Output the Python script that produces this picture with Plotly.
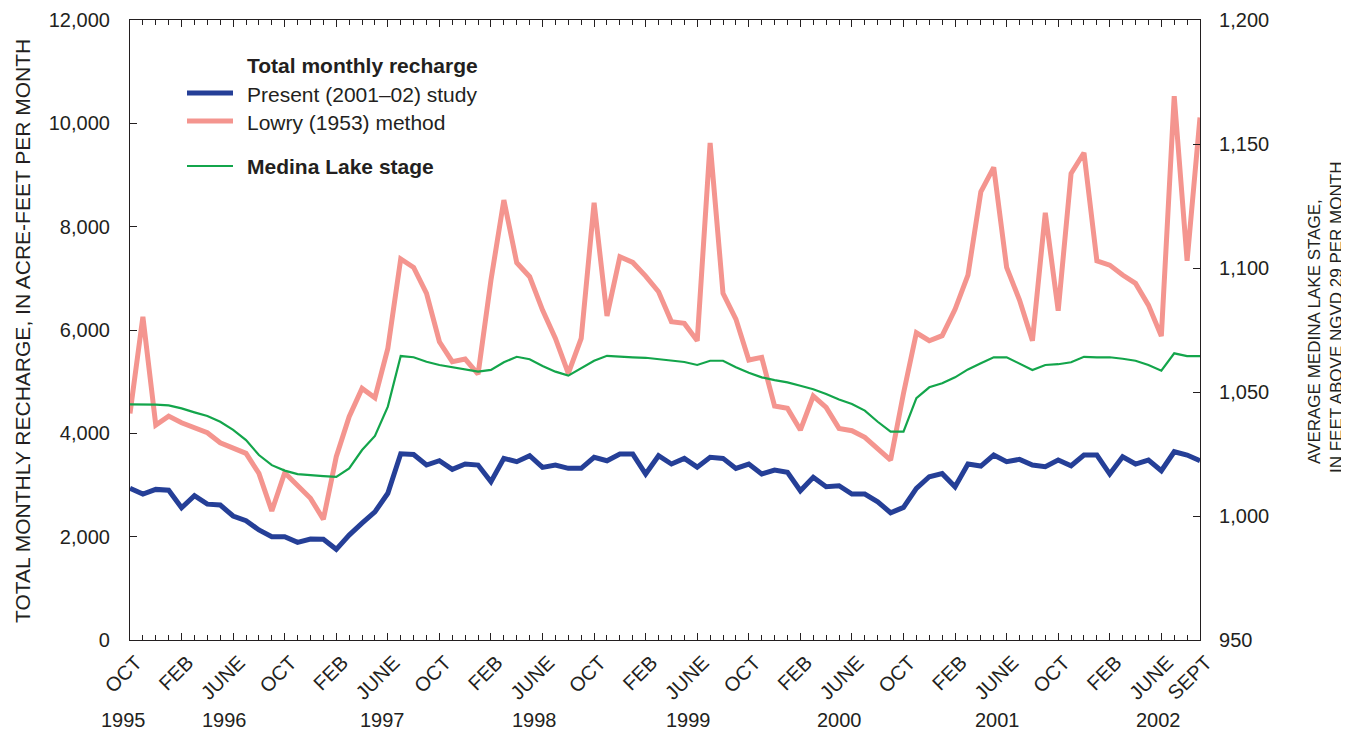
import plotly.graph_objects as go

# ---------------- data (Oct 1995 .. Sept 2002, monthly) ----------------
present_study = [
    2935, 2825, 2915, 2900, 2560, 2793, 2630, 2612, 2400, 2310, 2130, 2000,
    2000, 1890, 1955, 1950, 1755, 2030, 2260, 2480, 2840, 3605, 3590, 3386,
    3470, 3303, 3406, 3386, 3064, 3515, 3451, 3567, 3341, 3386, 3322, 3322,
    3535, 3470, 3599, 3599, 3212, 3567, 3406, 3515, 3345, 3535, 3515, 3322,
    3406, 3212, 3290, 3245, 2889, 3148, 2966, 2986, 2825, 2825, 2676, 2463,
    2567, 2935, 3160, 3220, 2966, 3406, 3367, 3580, 3451, 3496, 3386, 3354,
    3483, 3373, 3580, 3580, 3212, 3547, 3406, 3483, 3276, 3644, 3580, 3470,
]
lowry_method = [
    4386, 6256, 4160, 4334, 4205, 4096, 4012, 3818, 3709, 3612, 3225, 2496,
    3237, 2999, 2742, 2335, 3547, 4321, 4870, 4689, 5644, 7375, 7212, 6709,
    5773, 5386, 5437, 5147, 6966, 8514, 7302, 7032, 6386, 5838, 5160, 5838,
    8462, 6270, 7417, 7308, 7044, 6741, 6159, 6128, 5792, 9620, 6709, 6211,
    5418, 5470, 4528, 4483, 4064, 4721, 4502, 4096, 4050, 3922, 3709, 3483,
    4773, 5946, 5792, 5890, 6400, 7063, 8675, 9147, 7212, 6579, 5792, 8268,
    6372, 9030, 9430, 7340, 7256, 7063, 6902, 6482, 5882, 10526, 7340, 10114,
]
lake_stage = [
    1045.0, 1045.0, 1044.9, 1044.6, 1043.4, 1041.8, 1040.3, 1038.0, 1034.7, 1030.6, 1024.6, 1020.5,
    1018.3, 1016.9, 1016.4, 1016.1, 1015.8, 1019.2, 1026.6, 1032.3, 1044.1, 1064.5, 1064.0, 1062.2,
    1060.9, 1060.0, 1058.9, 1058.2, 1058.9, 1062.0, 1064.2, 1063.2, 1060.5, 1058.2, 1056.6, 1059.6,
    1062.6, 1064.6, 1064.2, 1064.0, 1063.8, 1063.2, 1062.6, 1062.1, 1060.9, 1062.6, 1062.6, 1060.0,
    1057.8, 1055.9, 1054.8, 1053.9, 1052.5, 1051.1, 1049.2, 1047.0, 1045.2, 1042.5, 1038.0, 1034.0,
    1034.0, 1047.5, 1051.9, 1053.5, 1055.9, 1059.1, 1061.6, 1064.0, 1064.0, 1061.6, 1058.9, 1060.9,
    1061.2, 1062.0, 1064.2, 1064.0, 1064.0, 1063.4, 1062.6, 1060.9, 1058.6, 1065.6, 1064.5, 1064.5,
]
month_labels = ["OCT", "FEB", "JUNE"] * 7 + ["SEPT"]
year_labels = ["1995", "1996", "1997", "1998", "1999", "2000", "2001", "2002"]

months = list(range(len(present_study)))
tick_positions = list(range(0, 84, 4)) + [83]
year_positions = [-0.5, 7.3, 19.6, 31.4, 43.3, 55.0, 67.3, 79.8]

FONT = "Liberation Sans, Arial, sans-serif"
INK = "#231f20"
BLUE = "#253f97"
PINK = "#f4958f"
GREEN = "#13a54b"

fig = go.Figure()
fig.add_trace(go.Scatter(x=months, y=lake_stage, yaxis="y2", mode="lines",
                         line=dict(color=GREEN, width=2.2), name="Medina Lake stage",
                         showlegend=False))
fig.add_trace(go.Scatter(x=months, y=lowry_method, mode="lines",
                         line=dict(color=PINK, width=5), name="Lowry (1953) method",
                         showlegend=False))
fig.add_trace(go.Scatter(x=months, y=present_study, mode="lines",
                         line=dict(color=BLUE, width=5), name="Present (2001\u201302) study",
                         showlegend=False))

# page body adds an 8px offset; figure sized so the plot sits at 130..1200 x 20..640
fig.update_layout(
    template="none",
    width=1341, height=724,
    margin=dict(l=122, r=149, t=12, b=92, autoexpand=False),
    paper_bgcolor="white", plot_bgcolor="white",
    font=dict(family=FONT, size=20, color=INK),
    xaxis=dict(
        range=[0, 83], showgrid=False, zeroline=False, automargin=False,
        showline=True, linecolor=INK, linewidth=1.2, mirror="ticks",
        tickmode="array", tickvals=tick_positions, ticktext=month_labels,
        ticks="inside", ticklen=7, tickcolor=INK, tickwidth=1,
        tickangle=-45, tickfont=dict(size=20, color=INK),
        ticklabelshift=6, ticklabelstandoff=2,
        minor=dict(ticks="inside", ticklen=5, dtick=1, tick0=0, tickcolor=INK, tickwidth=1),
    ),
    yaxis=dict(
        range=[0, 12000], showgrid=False, zeroline=False, automargin=False,
        showline=True, linecolor=INK, linewidth=1.2,
        tickmode="array", tickvals=list(range(0, 12001, 2000)),
        tickformat=",d", ticks="inside", ticklen=7, tickcolor=INK,
        tickfont=dict(size=20, color=INK), ticklabelstandoff=15,
    ),
    yaxis2=dict(
        range=[950, 1200], overlaying="y", side="right", anchor="x",
        showgrid=False, zeroline=False, automargin=False,
        showline=True, linecolor=INK, linewidth=1.2,
        tickmode="array", tickvals=list(range(950, 1201, 50)),
        tickformat=",d", ticks="inside", ticklen=7, tickcolor=INK,
        tickfont=dict(size=20, color=INK), ticklabelstandoff=14,
    ),
)


def px_x(px):
    return (px - 130) / 1070.0


def px_y(py):
    return (640 - py) / 620.0


annotations = []
for yr, pos in zip(year_labels, year_positions):
    annotations.append(dict(x=pos / 83.0, y=px_y(720), xref="paper", yref="paper", text=yr,
                            showarrow=False, xanchor="center", yanchor="middle",
                            font=dict(size=20, color=INK)))
# axis titles
annotations.append(dict(x=px_x(22), y=px_y(331), xref="paper", yref="paper",
                        text="TOTAL MONTHLY RECHARGE, IN ACRE-FEET PER MONTH",
                        textangle=-90, showarrow=False, xanchor="center", yanchor="middle",
                        font=dict(size=21, color=INK)))
annotations.append(dict(x=px_x(1315), y=px_y(332), xref="paper", yref="paper",
                        text="AVERAGE MEDINA LAKE STAGE,",
                        textangle=-90, showarrow=False, xanchor="center", yanchor="middle",
                        font=dict(size=17, color=INK)))
annotations.append(dict(x=px_x(1337), y=px_y(318), xref="paper", yref="paper",
                        text="IN FEET ABOVE NGVD 29 PER MONTH",
                        textangle=-90, showarrow=False, xanchor="center", yanchor="middle",
                        font=dict(size=17, color=INK)))

# legend (manual)
legend_rows = [
    ("<b>Total monthly recharge</b>", 65, None, 0),
    ("Present (2001\u201302) study", 94, BLUE, 5),
    ("Lowry (1953) method", 122, PINK, 5),
    ("<b>Medina Lake stage</b>", 167, GREEN, 2.2),
]
shapes = []
for text, py, color, w in legend_rows:
    annotations.append(dict(x=px_x(245), y=px_y(py), xref="paper", yref="paper", text=text,
                            showarrow=False, xanchor="left", yanchor="middle",
                            font=dict(size=21, color=INK)))
    if color:
        shapes.append(dict(type="line", xref="paper", yref="paper",
                           x0=px_x(187), x1=px_x(233), y0=px_y(py - 1), y1=px_y(py - 1),
                           line=dict(color=color, width=w)))

fig.update_layout(annotations=annotations, shapes=shapes)
fig.write_html("out.html")
